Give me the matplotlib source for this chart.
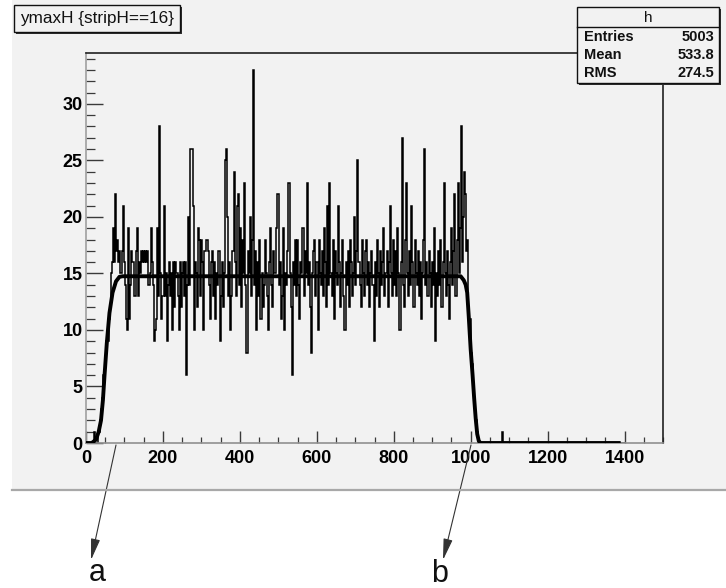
import numpy as np
import matplotlib
matplotlib.use("Agg")
import matplotlib.pyplot as plt
from matplotlib.patches import Rectangle
from matplotlib.lines import Line2D
from matplotlib.ticker import MultipleLocator

# ---------------- data ----------------
n_bins = 500
x_min, x_max = 0, 1400

counts_start = [0, 0, 0, 0, 0, 0, 0, 1, 0, 0]                    # bins 0-9
counts_rise = [0, 1, 1, 2, 3, 4, 6, 6, 7, 9, 9, 11, 12, 15, 16, 19, 16]  # bins 10-26
counts_seg1 = [22, 17, 18, 16, 17, 15, 17, 21, 16, 14,
               11, 10, 19, 11, 14, 17, 16, 16, 13, 17,
               19, 13, 16, 15, 17, 16, 17, 16, 17, 16,
               17, 14, 15, 19, 16, 14, 9, 10, 11, 19,
               13, 28, 15, 11, 13, 21, 13, 15, 9, 14,
               16, 13, 15, 10, 16, 12, 16, 15, 13, 10,
               16, 12, 15, 16, 13, 16, 6, 14, 20, 14]            # bins 27-96
counts_seg2 = [26, 26, 21, 10, 16, 15, 12, 19, 18, 13,
               18, 16, 10, 17, 18, 18, 17, 14, 11, 16,
               17, 13, 16, 11, 15, 14, 17, 9, 13, 16,
               12, 15, 25, 26, 20, 13, 16, 10, 13, 17,
               24, 16, 13, 21, 22, 14, 19, 12, 18, 15,
               23, 14, 8, 17, 15, 20, 13, 18, 33, 14,
               17, 10, 16, 13, 18, 11, 15, 12, 14, 18]           # bins 97-166
counts_seg3 = [15, 13, 10, 16, 19, 14, 12, 17, 15, 19,
               22, 22, 14, 16, 11, 13, 19, 10, 15, 14,
               17, 23, 15, 12, 6, 16, 14, 18, 13, 18,
               14, 11, 16, 15, 19, 13, 17, 15, 23, 14,
               16, 12, 8, 15, 17, 18, 13, 16, 10, 18,
               15, 14, 17, 13, 19, 16, 12, 21, 14, 23,
               15, 13, 18, 11, 17, 15, 14, 21, 16, 12]           # bins 167-236
counts_seg4 = [15, 18, 13, 10, 16, 14, 17, 12, 18, 16,
               13, 15, 20, 14, 17, 25, 16, 14, 12, 18,
               15, 13, 17, 18, 14, 16, 12, 15, 17, 14,
               9, 16, 13, 18, 15, 12, 17, 14, 16, 19,
               13, 15, 17, 12, 16, 21, 15, 13, 18, 14,
               17, 13, 19, 15, 10, 16, 27, 14, 12, 18,
               23, 15, 13, 17, 14, 21, 16, 12, 18, 15]           # bins 237-306
counts_seg5 = [14, 17, 13, 16, 11, 15, 18, 26, 14, 16,
               13, 17, 15, 12, 16, 14, 19, 9, 15, 13,
               17, 14, 18, 12, 16, 23, 15, 13, 17, 14,
               11, 16, 19, 14, 17, 22, 13, 18, 23, 15,
               19, 28, 16, 20, 24, 22, 17, 18, 12, 11]           # bins 307-356
counts_fall = [8, 7, 5, 4, 2, 2, 1, 0, 0, 0]                     # bins 357-366
counts_tail_bin = 386
counts_tail_val = 1

fit_x = [0, 15, 26, 33, 39, 44, 48, 54, 61, 69, 78, 87, 95,
         974, 982, 987, 991, 995, 1000, 1005, 1009, 1013, 1017, 1021, 1025, 1390]
fit_y = [0, 0, 0.3, 1.0, 2.0, 3.8, 5.9, 8.8, 11.5, 13.3, 14.3, 14.7, 14.75,
         14.75, 14.4, 14.0, 13.3, 11.2, 8.3, 6.0, 4.0, 2.2, 0.8, 0.2, 0, 0]

x_ticks = [0, 200, 400, 600, 800, 1000, 1200, 1400]
y_ticks = [0, 5, 10, 15, 20, 25, 30]

title_text = "ymaxH {stripH==16}"
stats_name = "h"
stats_rows = [("Entries", "5003"), ("Mean", "533.8"), ("RMS", "274.5")]

# ---------------- build ----------------
counts = np.zeros(n_bins)
seq = (counts_start + counts_rise + counts_seg1 + counts_seg2 + counts_seg3 +
       counts_seg4 + counts_seg5 + counts_fall)
counts[:len(seq)] = seq
counts[counts_tail_bin] = counts_tail_val
edges = np.linspace(x_min, x_max, n_bins + 1)

plt.rcParams['font.family'] = ['Liberation Sans', 'DejaVu Sans']

W, H = 726, 588
fig = plt.figure(figsize=(W / 100, H / 100), dpi=100)
fig.patch.set_facecolor('white')

def fx(px):
    return px / W

def fy(py):
    return 1 - py / H

BG = '#f2f2f2'
# canvas background
fig.add_artist(Rectangle((fx(12), fy(490)), 1 - fx(12), 490 / H,
                         transform=fig.transFigure, facecolor=BG,
                         edgecolor='none', zorder=0))
fig.add_artist(Line2D([fx(12), 1], [fy(490), fy(490)], color='#a8a8a8',
                      lw=1.6, transform=fig.transFigure, zorder=1))

ax = fig.add_axes([fx(86), fy(443), fx(663) - fx(86), (443 - 53) / H])
ax.set_facecolor(BG)
ax.stairs(counts, edges, color='black', lw=1.1, zorder=2)
ax.plot(fit_x, fit_y, color='black', lw=2.8, solid_joinstyle='round',
        solid_capstyle='butt', zorder=3)
ax.set_xlim(0, 1500)
ax.set_ylim(0, 34.5)

ax.set_xticks(x_ticks)
ax.set_xticklabels([str(v) for v in x_ticks], fontweight='bold', fontsize=13)
ax.set_yticks(y_ticks)
ax.set_yticklabels([str(v) for v in y_ticks], fontweight='bold', fontsize=13)
ax.xaxis.set_minor_locator(MultipleLocator(50))
ax.yaxis.set_minor_locator(MultipleLocator(1))
ax.tick_params(axis='both', which='both', direction='in', top=False,
               right=False, color='#3a3a3a')
ax.tick_params(axis='x', which='major', length=8.6, width=1.0, pad=5)
ax.tick_params(axis='x', which='minor', length=4.3, width=0.9)
ax.tick_params(axis='y', which='major', length=12, width=1.0, pad=2.5)
ax.tick_params(axis='y', which='minor', length=6.5, width=0.9)

ax.spines['top'].set_color('#222222')
ax.spines['right'].set_color('#222222')
ax.spines['left'].set_color('#a0a0a0')
ax.spines['bottom'].set_color('#909090')
for s in ax.spines.values():
    s.set_linewidth(1.2)

# ---------------- title box ----------------
def box(x0, y0, x1, y1, z=5):
    # shadow
    fig.add_artist(Rectangle((fx(x0 + 2), fy(y1 + 2)), (x1 - x0) / W, (y1 - y0) / H,
                             transform=fig.transFigure, facecolor='#303030',
                             edgecolor='none', zorder=z))
    fig.add_artist(Rectangle((fx(x0), fy(y1)), (x1 - x0) / W, (y1 - y0) / H,
                             transform=fig.transFigure, facecolor=BG,
                             edgecolor='#111111', lw=1.0, zorder=z + 0.1))

box(14, 5, 180, 32)
fig.text(fx(97), fy(19), title_text, ha='center', va='center', fontsize=12.3,
         color='#111111', zorder=6)

# ---------------- stats box ----------------
box(577, 7, 719, 83)
fig.add_artist(Line2D([fx(577), fx(719)], [fy(27), fy(27)], color='#111111',
                      lw=1.0, transform=fig.transFigure, zorder=6))
fig.text(fx(648), fy(17.5), stats_name, ha='center', va='center', fontsize=11,
         color='#111111', zorder=7)
row_y = [37, 55, 73]
for (lab, val), yy in zip(stats_rows, row_y):
    fig.text(fx(584), fy(yy), lab, ha='left', va='center', fontsize=10.5,
             fontweight='bold', color='#111111', zorder=7)
    fig.text(fx(714), fy(yy), val, ha='right', va='center', fontsize=10.5,
             fontweight='bold', color='#111111', zorder=7)

# ---------------- arrows + labels ----------------
arrow_props = dict(arrowstyle='-|>,head_length=1.3,head_width=0.28',
                   color='#333333', lw=0.8, shrinkA=0, shrinkB=0)
ax.annotate('', xy=(91, H - 560), xytext=(116, H - 445),
            xycoords='figure pixels', textcoords='figure pixels',
            arrowprops=arrow_props, annotation_clip=False)
ax.annotate('', xy=(443, H - 560), xytext=(471, H - 445),
            xycoords='figure pixels', textcoords='figure pixels',
            arrowprops=arrow_props, annotation_clip=False)
fig.text(fx(97), fy(581), 'a', ha='center', va='baseline', fontsize=22,
         color='#111111')
fig.text(fx(440), fy(582), 'b', ha='center', va='baseline', fontsize=22,
         color='#111111')

fig.savefig('out.png', dpi=100, facecolor='white')
